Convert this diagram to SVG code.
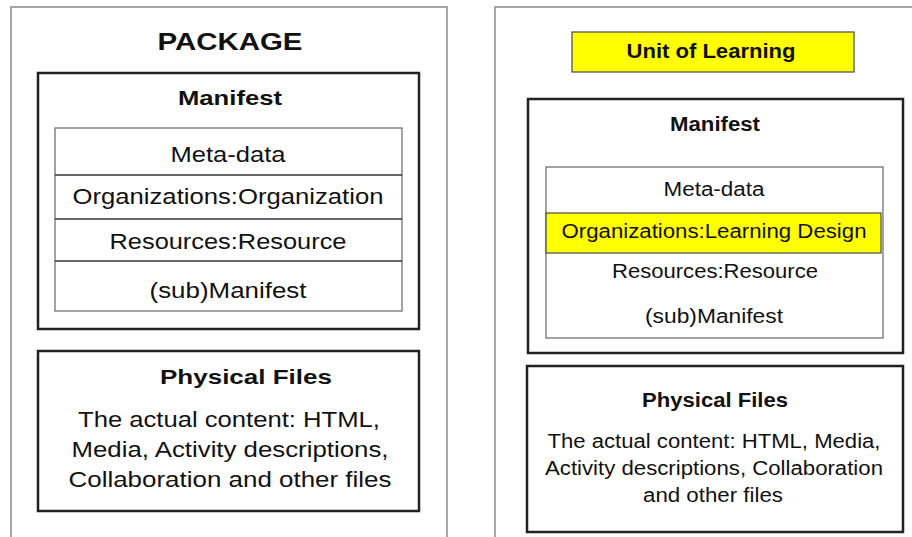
<svg xmlns="http://www.w3.org/2000/svg" width="912" height="537" viewBox="0 0 912 537">
  <style>
    .outer { fill: #fff; stroke: #8a8a8a; stroke-width: 1.5; }
    .frame { fill: #fff; stroke: #222; stroke-width: 2.5; }
    .table { fill: #fff; stroke: #666; stroke-width: 1.2; }
    .row { stroke: #333; stroke-width: 1.3; }
    .hl { fill: #ffff00; stroke: #555; stroke-width: 1.3; }
    text { font-family: "Liberation Sans", Arial, sans-serif; fill: #111; text-anchor: middle; }
    .b { font-weight: bold; }
    .l { font-size: 22px; }
    .lb { font-size: 21px; font-weight: bold; }
    .r { font-size: 20px; }
    .rb { font-size: 20px; font-weight: bold; }
  </style>

  <!-- Left: content package -->
  <g id="package">
    <rect class="outer" x="11" y="7" width="436" height="545"/>
    <text class="b" x="230" y="50" font-size="23" textLength="145" lengthAdjust="spacingAndGlyphs">PACKAGE</text>
  </g>
  <g id="package-manifest">
    <rect class="frame" x="38" y="73" width="381" height="256"/>
    <text class="lb" x="230" y="105" textLength="104" lengthAdjust="spacingAndGlyphs">Manifest</text>
    <rect class="table" x="55" y="128" width="347" height="183"/>
    <line class="row" x1="55" y1="175" x2="402" y2="175"/>
    <line class="row" x1="55" y1="219" x2="402" y2="219"/>
    <line class="row" x1="55" y1="261" x2="402" y2="261"/>
    <text class="l" x="228" y="162" textLength="115" lengthAdjust="spacingAndGlyphs">Meta-data</text>
    <text class="l" x="228" y="204" textLength="311" lengthAdjust="spacingAndGlyphs">Organizations:Organization</text>
    <text class="l" x="228" y="249" textLength="237" lengthAdjust="spacingAndGlyphs">Resources:Resource</text>
    <text class="l" x="228" y="298" textLength="157" lengthAdjust="spacingAndGlyphs">(sub)Manifest</text>
  </g>
  <g id="package-files">
    <rect class="frame" x="38" y="351" width="381" height="160"/>
    <text class="lb" x="246" y="384" textLength="172" lengthAdjust="spacingAndGlyphs">Physical Files</text>
    <text class="l" x="229" y="427" textLength="302" lengthAdjust="spacingAndGlyphs">The actual content: HTML,</text>
    <text class="l" x="230" y="457" textLength="317" lengthAdjust="spacingAndGlyphs">Media, Activity descriptions,</text>
    <text class="l" x="230" y="487" textLength="323" lengthAdjust="spacingAndGlyphs">Collaboration and other files</text>
  </g>

  <!-- Right: unit of learning -->
  <g id="unit">
    <rect class="outer" x="495" y="7" width="430" height="545"/>
    <rect class="hl" x="572" y="32" width="282" height="40"/>
    <text class="rb" x="711" y="58" textLength="169" lengthAdjust="spacingAndGlyphs">Unit of Learning</text>
  </g>
  <g id="unit-manifest">
    <rect class="frame" x="528" y="99" width="375" height="254"/>
    <text class="rb" x="715" y="131" textLength="90" lengthAdjust="spacingAndGlyphs">Manifest</text>
    <rect class="table" x="546" y="167" width="337" height="171"/>
    <rect class="hl" x="546" y="213" width="335" height="40"/>
    <text class="r" x="714" y="196" textLength="101" lengthAdjust="spacingAndGlyphs">Meta-data</text>
    <text class="r" x="714" y="238" textLength="305" lengthAdjust="spacingAndGlyphs">Organizations:Learning Design</text>
    <text class="r" x="715" y="278" textLength="206" lengthAdjust="spacingAndGlyphs">Resources:Resource</text>
    <text class="r" x="714" y="323" textLength="138" lengthAdjust="spacingAndGlyphs">(sub)Manifest</text>
  </g>
  <g id="unit-files">
    <rect class="frame" x="527" y="366" width="376" height="166"/>
    <text class="rb" x="715" y="407" textLength="146" lengthAdjust="spacingAndGlyphs">Physical Files</text>
    <text class="r" x="714" y="448" textLength="333" lengthAdjust="spacingAndGlyphs">The actual content: HTML, Media,</text>
    <text class="r" x="714" y="475" textLength="338" lengthAdjust="spacingAndGlyphs">Activity descriptions, Collaboration</text>
    <text class="r" x="713" y="502" textLength="140" lengthAdjust="spacingAndGlyphs">and other files</text>
  </g>

  <g id="connectors"/>
</svg>
